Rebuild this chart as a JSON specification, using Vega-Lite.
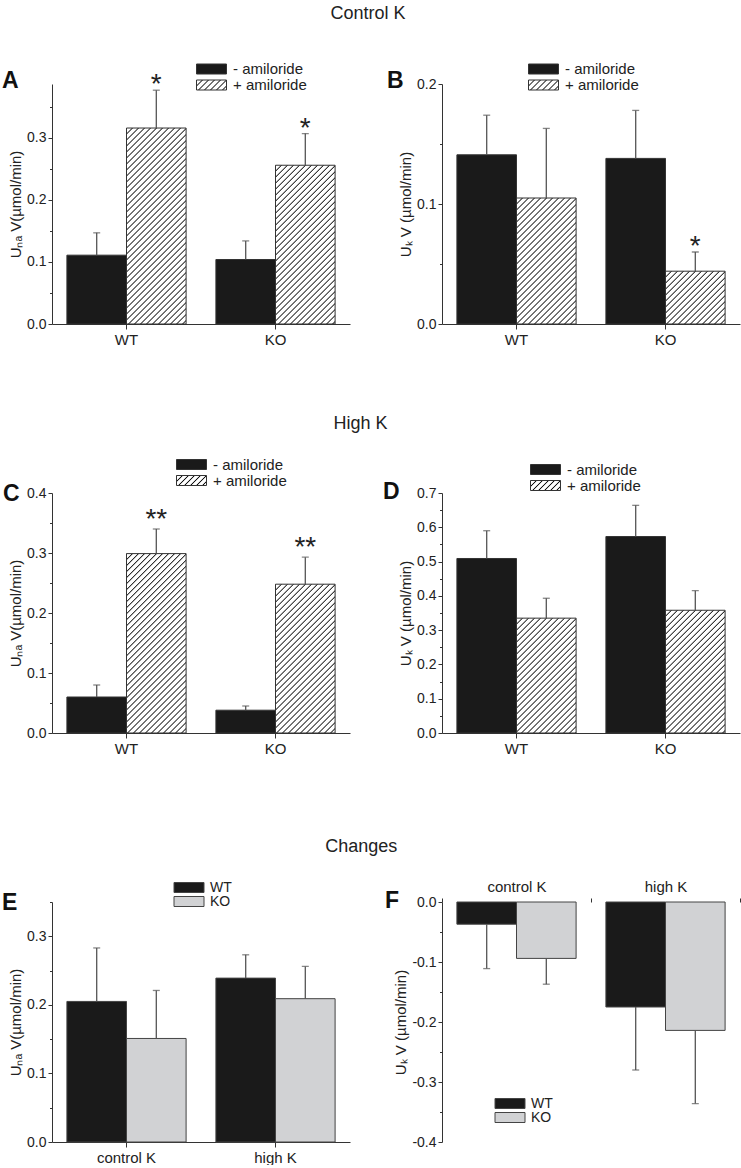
{
"$schema":"https://vega.github.io/schema/vega-lite/v6.json",
"padding":{"left":2,"top":4,"right":0,"bottom":0},
"params":[{"name":"hs","value":[
{"offset":0,"color":"#111"},{"offset":0.004,"color":"#fff"},{"offset":0.016,"color":"#fff"},
{"offset":0.02,"color":"#111"},{"offset":0.024,"color":"#fff"},{"offset":0.036,"color":"#fff"},
{"offset":0.04,"color":"#111"},{"offset":0.044,"color":"#fff"},{"offset":0.056,"color":"#fff"},
{"offset":0.06,"color":"#111"},{"offset":0.064,"color":"#fff"},{"offset":0.076,"color":"#fff"},
{"offset":0.08,"color":"#111"},{"offset":0.084,"color":"#fff"},{"offset":0.096,"color":"#fff"},
{"offset":0.1,"color":"#111"},{"offset":0.104,"color":"#fff"},{"offset":0.116,"color":"#fff"},
{"offset":0.12,"color":"#111"},{"offset":0.124,"color":"#fff"},{"offset":0.136,"color":"#fff"},
{"offset":0.14,"color":"#111"},{"offset":0.144,"color":"#fff"},{"offset":0.156,"color":"#fff"},
{"offset":0.16,"color":"#111"},{"offset":0.164,"color":"#fff"},{"offset":0.176,"color":"#fff"},
{"offset":0.18,"color":"#111"},{"offset":0.184,"color":"#fff"},{"offset":0.196,"color":"#fff"},
{"offset":0.2,"color":"#111"},{"offset":0.204,"color":"#fff"},{"offset":0.216,"color":"#fff"},
{"offset":0.22,"color":"#111"},{"offset":0.224,"color":"#fff"},{"offset":0.236,"color":"#fff"},
{"offset":0.24,"color":"#111"},{"offset":0.244,"color":"#fff"},{"offset":0.256,"color":"#fff"},
{"offset":0.26,"color":"#111"},{"offset":0.264,"color":"#fff"},{"offset":0.276,"color":"#fff"},
{"offset":0.28,"color":"#111"},{"offset":0.284,"color":"#fff"},{"offset":0.296,"color":"#fff"},
{"offset":0.3,"color":"#111"},{"offset":0.304,"color":"#fff"},{"offset":0.316,"color":"#fff"},
{"offset":0.32,"color":"#111"},{"offset":0.324,"color":"#fff"},{"offset":0.336,"color":"#fff"},
{"offset":0.34,"color":"#111"},{"offset":0.344,"color":"#fff"},{"offset":0.356,"color":"#fff"},
{"offset":0.36,"color":"#111"},{"offset":0.364,"color":"#fff"},{"offset":0.376,"color":"#fff"},
{"offset":0.38,"color":"#111"},{"offset":0.384,"color":"#fff"},{"offset":0.396,"color":"#fff"},
{"offset":0.4,"color":"#111"},{"offset":0.404,"color":"#fff"},{"offset":0.416,"color":"#fff"},
{"offset":0.42,"color":"#111"},{"offset":0.424,"color":"#fff"},{"offset":0.436,"color":"#fff"},
{"offset":0.44,"color":"#111"},{"offset":0.444,"color":"#fff"},{"offset":0.456,"color":"#fff"},
{"offset":0.46,"color":"#111"},{"offset":0.464,"color":"#fff"},{"offset":0.476,"color":"#fff"},
{"offset":0.48,"color":"#111"},{"offset":0.484,"color":"#fff"},{"offset":0.496,"color":"#fff"},
{"offset":0.5,"color":"#111"},{"offset":0.504,"color":"#fff"},{"offset":0.516,"color":"#fff"},
{"offset":0.52,"color":"#111"},{"offset":0.524,"color":"#fff"},{"offset":0.536,"color":"#fff"},
{"offset":0.54,"color":"#111"},{"offset":0.544,"color":"#fff"},{"offset":0.556,"color":"#fff"},
{"offset":0.56,"color":"#111"},{"offset":0.564,"color":"#fff"},{"offset":0.576,"color":"#fff"},
{"offset":0.58,"color":"#111"},{"offset":0.584,"color":"#fff"},{"offset":0.596,"color":"#fff"},
{"offset":0.6,"color":"#111"},{"offset":0.604,"color":"#fff"},{"offset":0.616,"color":"#fff"},
{"offset":0.62,"color":"#111"},{"offset":0.624,"color":"#fff"},{"offset":0.636,"color":"#fff"},
{"offset":0.64,"color":"#111"},{"offset":0.644,"color":"#fff"},{"offset":0.656,"color":"#fff"},
{"offset":0.66,"color":"#111"},{"offset":0.664,"color":"#fff"},{"offset":0.676,"color":"#fff"},
{"offset":0.68,"color":"#111"},{"offset":0.684,"color":"#fff"},{"offset":0.696,"color":"#fff"},
{"offset":0.7,"color":"#111"},{"offset":0.704,"color":"#fff"},{"offset":0.716,"color":"#fff"},
{"offset":0.72,"color":"#111"},{"offset":0.724,"color":"#fff"},{"offset":0.736,"color":"#fff"},
{"offset":0.74,"color":"#111"},{"offset":0.744,"color":"#fff"},{"offset":0.756,"color":"#fff"},
{"offset":0.76,"color":"#111"},{"offset":0.764,"color":"#fff"},{"offset":0.776,"color":"#fff"},
{"offset":0.78,"color":"#111"},{"offset":0.784,"color":"#fff"},{"offset":0.796,"color":"#fff"},
{"offset":0.8,"color":"#111"},{"offset":0.804,"color":"#fff"},{"offset":0.816,"color":"#fff"},
{"offset":0.82,"color":"#111"},{"offset":0.824,"color":"#fff"},{"offset":0.836,"color":"#fff"},
{"offset":0.84,"color":"#111"},{"offset":0.844,"color":"#fff"},{"offset":0.856,"color":"#fff"},
{"offset":0.86,"color":"#111"},{"offset":0.864,"color":"#fff"},{"offset":0.876,"color":"#fff"},
{"offset":0.88,"color":"#111"},{"offset":0.884,"color":"#fff"},{"offset":0.896,"color":"#fff"},
{"offset":0.9,"color":"#111"}]}],
"config":{
 "font":"Liberation Sans",
 "view":{"stroke":null},
 "axis":{"grid":false,"domainColor":"#333","tickColor":"#333","labelColor":"#222","labelFontSize":14,"titleFontSize":15,"titleFontWeight":"normal","titleColor":"#222","tickSize":4,"labelPadding":2,"titlePadding":3},
 "axisX":{"labelFontSize":15,"tickSize":5,"labelPadding":3},
 "legend":{"orient":"none","padding":0,"symbolType":"M-3,-1H3V1H-3Z","symbolSize":100,"symbolStrokeColor":"#333","symbolStrokeWidth":1,"labelFontSize":15,"labelOffset":14,"labelColor":"#222","rowPadding":0},
 "title":{"fontWeight":"normal","color":"#222"}
},
"spacing":409,
"bounds":"flush",
"resolve":{"scale":{"fill":"independent","x":"independent","y":"independent","xOffset":"independent"},"legend":{"fill":"independent"}},
"vconcat":[
{
 "title":{"text":"Control K","fontSize":18,"fontWeight":"normal","anchor":"middle","frame":"bounds","dx":-3,"baseline":"alphabetic","offset":25},
 "spacing":92,"bounds":"flush",
 "resolve":{"scale":{"fill":"independent","x":"independent","y":"independent","xOffset":"independent"},"legend":{"fill":"independent"}},
 "hconcat":[
 {
  "width":298,"height":240,
  "title":{"text":"A","anchor":"start","frame":"group","dx":-50,"offset":-49,"fontSize":23,"fontWeight":"bold","baseline":"alphabetic","color":"#111"},
  "data":{"values":[
   {"group":"WT","sub":"- amiloride","value":0.111,"upper":0.147,"sig":""},
   {"group":"WT","sub":"+ amiloride","value":0.316,"upper":0.377,"sig":"*"},
   {"group":"KO","sub":"- amiloride","value":0.104,"upper":0.134,"sig":""},
   {"group":"KO","sub":"+ amiloride","value":0.256,"upper":0.307,"sig":"*"}]},
  "encoding":{
   "x":{"field":"group","type":"nominal","title":null,"scale":{"domain":["WT","KO"],"paddingInner":0,"paddingOuter":0},"axis":{"labelAngle":0}},
   "xOffset":{"field":"sub","type":"nominal","scale":{"domain":["- amiloride","+ amiloride"],"paddingInner":0,"paddingOuter":0.25}},
   "y":{"field":"value","type":"quantitative","title":"Uₙₐ V(µmol/min)","scale":{"domain":[0,0.387],"nice":false},"axis":{"values":[0,0.05,0.1,0.15,0.2,0.25,0.3,0.35],"labelExpr":"abs(datum.value*10-round(datum.value*10))<0.01?format(datum.value,'.1f'):''","tickDash":{"condition":{"test":"abs(datum.value*10-round(datum.value*10))>0.01","value":[2.5,10]},"value":[10,0]}}}
  },
  "layer":[
   {"transform":[{"filter":"datum.sub==='- amiloride'"}],"mark":{"type":"bar","stroke":"#333","strokeWidth":1},"encoding":{"fill":{"field":"sub","type":"nominal","scale":{"domain":["- amiloride","+ amiloride"],"range":["#1a1a1a",{"expr":"{gradient:'linear',x1:0,y1:0,x2:9,y2:3,stops:hs}"}]},"legend":{"title":null,"legendX":152,"legendY":-22.5,"symbolStrokeColor":"#333","symbolStrokeWidth":1}}}},
   {"transform":[{"filter":"datum.sub==='+ amiloride' && datum.group==='WT'"}],"mark":{"type":"bar","stroke":"#333","strokeWidth":1,"fill":{"expr":"{gradient:'linear',x1:0,y1:0,x2:0.4254,y2:1.4015,stops:hs}"}}},
   {"transform":[{"filter":"datum.sub==='+ amiloride' && datum.group==='KO'"}],"mark":{"type":"bar","stroke":"#333","strokeWidth":1,"fill":{"expr":"{gradient:'linear',x1:0,y1:0,x2:0.6193,y2:1.655,stops:hs}"}}},
   {"mark":{"type":"rule","color":"#555","strokeWidth":1.3},"encoding":{"y2":{"field":"upper"}}},
   {"mark":{"type":"tick","color":"#555","thickness":1.3,"size":7,"orient":"horizontal"},"encoding":{"y":{"field":"upper","type":"quantitative","title":"Uₙₐ V(µmol/min)"}}},
   {"mark":{"type":"text","fontSize":28,"dy":3,"baseline":"alphabetic","color":"#222"},"encoding":{"y":{"field":"upper","type":"quantitative","title":"Uₙₐ V(µmol/min)"},"text":{"field":"sig"}}}
  ]
 },
 {
  "width":298,"height":240,
  "title":{"text":"B","anchor":"start","frame":"group","dx":-55,"offset":-49,"fontSize":23,"fontWeight":"bold","baseline":"alphabetic","color":"#111"},
  "data":{"values":[
   {"group":"WT","sub":"- amiloride","value":0.141,"upper":0.174,"sig":""},
   {"group":"WT","sub":"+ amiloride","value":0.105,"upper":0.163,"sig":""},
   {"group":"KO","sub":"- amiloride","value":0.138,"upper":0.178,"sig":""},
   {"group":"KO","sub":"+ amiloride","value":0.044,"upper":0.06,"sig":"*"}]},
  "encoding":{
   "x":{"field":"group","type":"nominal","title":null,"scale":{"domain":["WT","KO"],"paddingInner":0,"paddingOuter":0},"axis":{"labelAngle":0}},
   "xOffset":{"field":"sub","type":"nominal","scale":{"domain":["- amiloride","+ amiloride"],"paddingInner":0,"paddingOuter":0.25}},
   "y":{"field":"value","type":"quantitative","title":"Uₖ V (µmol/min)","scale":{"domain":[0,0.2],"nice":false},"axis":{"values":[0,0.05,0.1,0.15,0.2],"labelExpr":"abs(datum.value*10-round(datum.value*10))<0.01?format(datum.value,'.1f'):''","tickDash":{"condition":{"test":"abs(datum.value*10-round(datum.value*10))>0.01","value":[2.5,10]},"value":[10,0]}}}
  },
  "layer":[
   {"transform":[{"filter":"datum.sub==='- amiloride'"}],"mark":{"type":"bar","stroke":"#333","strokeWidth":1},"encoding":{"fill":{"field":"sub","type":"nominal","scale":{"domain":["- amiloride","+ amiloride"],"range":["#1a1a1a",{"expr":"{gradient:'linear',x1:0,y1:0,x2:9,y2:3,stops:hs}"}]},"legend":{"title":null,"legendX":94,"legendY":-22.5,"symbolStrokeColor":"#333","symbolStrokeWidth":1}}}},
   {"transform":[{"filter":"datum.sub==='+ amiloride' && datum.group==='WT'"}],"mark":{"type":"bar","stroke":"#333","strokeWidth":1,"fill":{"expr":"{gradient:'linear',x1:0,y1:0,x2:0.9193,y2:1.9468,stops:hs}"}}},
   {"transform":[{"filter":"datum.sub==='+ amiloride' && datum.group==='KO'"}],"mark":{"type":"bar","stroke":"#333","strokeWidth":1,"fill":{"expr":"{gradient:'linear',x1:0,y1:0,x2:2.8115,y2:2.5043,stops:hs}"}}},
   {"mark":{"type":"rule","color":"#555","strokeWidth":1.3},"encoding":{"y2":{"field":"upper"}}},
   {"mark":{"type":"tick","color":"#555","thickness":1.3,"size":7,"orient":"horizontal"},"encoding":{"y":{"field":"upper","type":"quantitative","title":"Uₖ V (µmol/min)"}}},
   {"mark":{"type":"text","fontSize":28,"dy":3,"baseline":"alphabetic","color":"#222"},"encoding":{"y":{"field":"upper","type":"quantitative","title":"Uₖ V (µmol/min)"},"text":{"field":"sig"}}}
  ]
 }
 ]
},
{
 "title":{"text":"High K","fontSize":18,"fontWeight":"normal","anchor":"middle","frame":"bounds","dx":-11,"baseline":"alphabetic","offset":10},
 "spacing":92,"bounds":"flush",
 "resolve":{"scale":{"fill":"independent","x":"independent","y":"independent","xOffset":"independent"},"legend":{"fill":"independent"}},
 "hconcat":[
 {
  "width":298,"height":240,
  "title":{"text":"C","anchor":"start","frame":"group","dx":-49,"offset":-67,"fontSize":23,"fontWeight":"bold","baseline":"alphabetic","color":"#111"},
  "data":{"values":[
   {"group":"WT","sub":"- amiloride","value":0.06,"upper":0.08,"sig":""},
   {"group":"WT","sub":"+ amiloride","value":0.299,"upper":0.34,"sig":"**"},
   {"group":"KO","sub":"- amiloride","value":0.038,"upper":0.045,"sig":""},
   {"group":"KO","sub":"+ amiloride","value":0.248,"upper":0.293,"sig":"**"}]},
  "encoding":{
   "x":{"field":"group","type":"nominal","title":null,"scale":{"domain":["WT","KO"],"paddingInner":0,"paddingOuter":0},"axis":{"labelAngle":0}},
   "xOffset":{"field":"sub","type":"nominal","scale":{"domain":["- amiloride","+ amiloride"],"paddingInner":0,"paddingOuter":0.25}},
   "y":{"field":"value","type":"quantitative","title":"Uₙₐ V(µmol/min)","scale":{"domain":[0,0.4],"nice":false},"axis":{"values":[0,0.05,0.1,0.15,0.2,0.25,0.3,0.35,0.4],"labelExpr":"abs(datum.value*10-round(datum.value*10))<0.01?format(datum.value,'.1f'):''","tickDash":{"condition":{"test":"abs(datum.value*10-round(datum.value*10))>0.01","value":[2.5,10]},"value":[10,0]}}}
  },
  "layer":[
   {"transform":[{"filter":"datum.sub==='- amiloride'"}],"mark":{"type":"bar","stroke":"#333","strokeWidth":1},"encoding":{"fill":{"field":"sub","type":"nominal","scale":{"domain":["- amiloride","+ amiloride"],"range":["#1a1a1a",{"expr":"{gradient:'linear',x1:0,y1:0,x2:9,y2:3,stops:hs}"}]},"legend":{"title":null,"legendX":132,"legendY":-36,"symbolStrokeColor":"#333","symbolStrokeWidth":1}}}},
   {"transform":[{"filter":"datum.sub==='+ amiloride' && datum.group==='WT'"}],"mark":{"type":"bar","stroke":"#333","strokeWidth":1,"fill":{"expr":"{gradient:'linear',x1:0,y1:0,x2:0.5017,y2:1.5092,stops:hs}"}}},
   {"transform":[{"filter":"datum.sub==='+ amiloride' && datum.group==='KO'"}],"mark":{"type":"bar","stroke":"#333","strokeWidth":1,"fill":{"expr":"{gradient:'linear',x1:0,y1:0,x2:0.6934,y2:1.7365,stops:hs}"}}},
   {"mark":{"type":"rule","color":"#555","strokeWidth":1.3},"encoding":{"y2":{"field":"upper"}}},
   {"mark":{"type":"tick","color":"#555","thickness":1.3,"size":7,"orient":"horizontal"},"encoding":{"y":{"field":"upper","type":"quantitative","title":"Uₙₐ V(µmol/min)"}}},
   {"mark":{"type":"text","fontSize":28,"dy":-1,"baseline":"alphabetic","color":"#222"},"encoding":{"y":{"field":"upper","type":"quantitative","title":"Uₙₐ V(µmol/min)"},"text":{"field":"sig"}}}
  ]
 },
 {
  "width":298,"height":240,
  "title":{"text":"D","anchor":"start","frame":"group","dx":-59,"offset":-60,"fontSize":23,"fontWeight":"bold","baseline":"alphabetic","color":"#111"},
  "data":{"values":[
   {"group":"WT","sub":"- amiloride","value":0.509,"upper":0.59},
   {"group":"WT","sub":"+ amiloride","value":0.335,"upper":0.393},
   {"group":"KO","sub":"- amiloride","value":0.573,"upper":0.664},
   {"group":"KO","sub":"+ amiloride","value":0.358,"upper":0.415}]},
  "encoding":{
   "x":{"field":"group","type":"nominal","title":null,"scale":{"domain":["WT","KO"],"paddingInner":0,"paddingOuter":0},"axis":{"labelAngle":0}},
   "xOffset":{"field":"sub","type":"nominal","scale":{"domain":["- amiloride","+ amiloride"],"paddingInner":0,"paddingOuter":0.25}},
   "y":{"field":"value","type":"quantitative","title":"Uₖ V (µmol/min)","scale":{"domain":[0,0.7],"nice":false},"axis":{"values":[0,0.05,0.1,0.15,0.2,0.25,0.3,0.35,0.4,0.45,0.5,0.55,0.6,0.65,0.7],"labelExpr":"abs(datum.value*10-round(datum.value*10))<0.01?format(datum.value,'.1f'):''","tickDash":{"condition":{"test":"abs(datum.value*10-round(datum.value*10))>0.01","value":[2.5,10]},"value":[10,0]}}}
  },
  "layer":[
   {"transform":[{"filter":"datum.sub==='- amiloride'"}],"mark":{"type":"bar","stroke":"#333","strokeWidth":1},"encoding":{"fill":{"field":"sub","type":"nominal","scale":{"domain":["- amiloride","+ amiloride"],"range":["#1a1a1a",{"expr":"{gradient:'linear',x1:0,y1:0,x2:9,y2:3,stops:hs}"}]},"legend":{"title":null,"legendX":96,"legendY":-31,"symbolStrokeColor":"#333","symbolStrokeWidth":1}}}},
   {"transform":[{"filter":"datum.sub==='+ amiloride' && datum.group==='WT'"}],"mark":{"type":"bar","stroke":"#333","strokeWidth":1,"fill":{"expr":"{gradient:'linear',x1:0,y1:0,x2:1.0647,y2:2.0578,stops:hs}"}}},
   {"transform":[{"filter":"datum.sub==='+ amiloride' && datum.group==='KO'"}],"mark":{"type":"bar","stroke":"#333","strokeWidth":1,"fill":{"expr":"{gradient:'linear',x1:0,y1:0,x2:0.9561,y2:1.9765,stops:hs}"}}},
   {"mark":{"type":"rule","color":"#555","strokeWidth":1.3},"encoding":{"y2":{"field":"upper"}}},
   {"mark":{"type":"tick","color":"#555","thickness":1.3,"size":7,"orient":"horizontal"},"encoding":{"y":{"field":"upper","type":"quantitative","title":"Uₖ V (µmol/min)"}}}
  ]
 }
 ]
},
{
 "title":{"text":"Changes","fontSize":18,"fontWeight":"normal","anchor":"middle","frame":"bounds","dx":-10,"baseline":"alphabetic","offset":9},
 "spacing":92,"bounds":"flush",
 "resolve":{"scale":{"fill":"independent","x":"independent","y":"independent","xOffset":"independent"},"legend":{"fill":"independent"}},
 "hconcat":[
 {
  "width":298,"height":240,
  "title":{"text":"E","anchor":"start","frame":"group","dx":-50,"offset":-52,"fontSize":23,"fontWeight":"bold","baseline":"alphabetic","color":"#111"},
  "data":{"values":[
   {"group":"control K","sub":"WT","value":0.205,"upper":0.283},
   {"group":"control K","sub":"KO","value":0.151,"upper":0.221},
   {"group":"high K","sub":"WT","value":0.239,"upper":0.273},
   {"group":"high K","sub":"KO","value":0.209,"upper":0.256}]},
  "encoding":{
   "x":{"field":"group","type":"nominal","title":null,"scale":{"domain":["control K","high K"],"paddingInner":0,"paddingOuter":0},"axis":{"labelAngle":0}},
   "xOffset":{"field":"sub","type":"nominal","scale":{"domain":["WT","KO"],"paddingInner":0,"paddingOuter":0.25}},
   "y":{"field":"value","type":"quantitative","title":"Uₙₐ V(µmol/min)","scale":{"domain":[0,0.35],"nice":false},"axis":{"values":[0,0.05,0.1,0.15,0.2,0.25,0.3,0.35],"labelExpr":"abs(datum.value*10-round(datum.value*10))<0.01?format(datum.value,'.1f'):''","tickDash":{"condition":{"test":"abs(datum.value*10-round(datum.value*10))>0.01","value":[2.5,10]},"value":[10,0]}}}
  },
  "layer":[
   {"mark":{"type":"bar","stroke":"#444","strokeWidth":1},"encoding":{"fill":{"field":"sub","type":"nominal","scale":{"domain":["WT","KO"],"range":["#1a1a1a","#d1d2d4"]},"legend":{"title":null,"legendX":130,"legendY":-21.5,"labelFontSize":14,"symbolStrokeColor":"#444","symbolStrokeWidth":1}}}},
   {"mark":{"type":"rule","color":"#555","strokeWidth":1.3},"encoding":{"y2":{"field":"upper"}}},
   {"mark":{"type":"tick","color":"#555","thickness":1.3,"size":7,"orient":"horizontal"},"encoding":{"y":{"field":"upper","type":"quantitative","title":"Uₙₐ V(µmol/min)"}}}
  ]
 },
 {
  "width":298,"height":240,
  "title":{"text":"F","anchor":"start","frame":"group","dx":-57,"offset":-52,"fontSize":23,"fontWeight":"bold","baseline":"alphabetic","color":"#111"},
  "data":{"values":[
   {"group":"control K","sub":"WT","value":-0.037,"upper":-0.111},
   {"group":"control K","sub":"KO","value":-0.094,"upper":-0.137},
   {"group":"high K","sub":"WT","value":-0.175,"upper":-0.28},
   {"group":"high K","sub":"KO","value":-0.214,"upper":-0.336}]},
  "encoding":{
   "x":{"field":"group","type":"nominal","title":null,"scale":{"domain":["control K","high K"],"paddingInner":0,"paddingOuter":0},"axis":{"labelAngle":0,"orient":"top","domain":false,"tickBand":"extent","tickSize":4,"labelPadding":4}},
   "xOffset":{"field":"sub","type":"nominal","scale":{"domain":["WT","KO"],"paddingInner":0,"paddingOuter":0.25}},
   "y":{"field":"value","type":"quantitative","title":"Uₖ V (µmol/min)","scale":{"domain":[-0.4,0],"nice":false},"axis":{"values":[-0.4,-0.35,-0.3,-0.25,-0.2,-0.15,-0.1,-0.05,0],"labelExpr":"abs(datum.value*10-round(datum.value*10))<0.01?replace(format(datum.value,'.1f'),'−','-'):''","tickDash":{"condition":{"test":"abs(datum.value*10-round(datum.value*10))>0.01","value":[2.5,10]},"value":[10,0]}}}
  },
  "layer":[
   {"mark":{"type":"bar","stroke":"#444","strokeWidth":1},"encoding":{"fill":{"field":"sub","type":"nominal","scale":{"domain":["WT","KO"],"range":["#1a1a1a","#d1d2d4"]},"legend":{"title":null,"legendX":61,"legendY":194.5,"labelFontSize":14,"symbolStrokeColor":"#444","symbolStrokeWidth":1}}}},
   {"mark":{"type":"rule","color":"#555","strokeWidth":1.3},"encoding":{"y2":{"field":"upper"}}},
   {"mark":{"type":"tick","color":"#555","thickness":1.3,"size":7,"orient":"horizontal"},"encoding":{"y":{"field":"upper","type":"quantitative","title":"Uₖ V (µmol/min)"}}}
  ]
 }
 ]
}
]
}
